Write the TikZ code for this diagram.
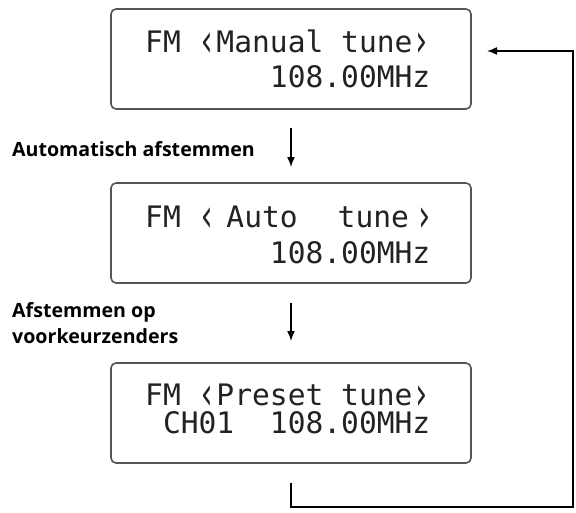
\documentclass[tikz,border=0pt]{standalone}
\usepackage{fontspec}
\usepackage{graphicx}
\setmainfont{Open Sans}
\newfontfamily\lcd{DejaVu Sans Mono}
\usetikzlibrary{arrows.meta}
\definecolor{boxline}{HTML}{555555}
\definecolor{lcdtext}{HTML}{222222}
\newcommand{\lcdlq}{\raisebox{-4pt}[20pt][0pt]{\scalebox{1}[1.55]{‹}}}
\newcommand{\lcdrq}{\raisebox{-4pt}[20pt][0pt]{\scalebox{1}[1.55]{›}}}
\tikzset{
  lcdbox/.style={draw=boxline, line width=1.6pt, rounded corners=5pt, minimum width=360pt, minimum height=100pt, inner sep=0pt},
  lcdline/.style={anchor=base west, inner sep=0pt, font=\lcd\fontsize{29.6}{30}\selectfont, text=lcdtext},
  lbl/.style={anchor=base west, inner sep=0pt, font=\bfseries\fontsize{19.6}{21}\selectfont, text=black},
  flow/.style={line width=1.5pt, -{Latex[length=10pt,width=8pt]}},
}
\begin{document}
\begin{tikzpicture}[x=1pt,y=-1pt]
\useasboundingbox (0,0) rectangle (576,512);
% boxes
\node[lcdbox] (b1) at (291,59) {};
\node[lcdbox] (b2) at (291,233) {};
\node[lcdbox] (b3) at (291,413) {};
% box texts
\node[lcdline] (t11) at (145,52) {FM \lcdlq Manual tune\lcdrq};
\node[lcdline] (t12) at (145,87) {\phantom{FM ‹Man}108.00MHz};
\node[lcdline] (t21) at (145,227) {FM \lcdlq\hspace{10pt}Auto\hspace{40pt}tune\hspace{6pt}\lcdrq};
\node[lcdline] (t22) at (145,263) {\phantom{FM ‹Man}108.00MHz};
\node[lcdline] (t31) at (145,405) {FM \lcdlq Preset tune\lcdrq};
\node[lcdline] (t32) at (145,433) {\phantom{F}CH01\phantom{MM}108.00MHz};
% labels
\node[lbl] (l1) at (12,156) {Automatisch afstemmen};
\node[lbl] (l2a) at (12,317) {Afstemmen op};
\node[lbl] (l2b) at (12,343) {voorkeurzenders};
% flow arrows
\coordinate (a1s) at (291,128);
\coordinate (a1e) at (291,167);
\coordinate (a2s) at (291,303);
\coordinate (a2e) at (291,341);
\draw[flow] (a1s) -- (a1e);
\draw[flow] (a2s) -- (a2e);
% return loop
\coordinate (r0) at (291,483);
\coordinate (r1) at (291,507);
\coordinate (r2) at (573,507);
\coordinate (r3) at (573,51);
\coordinate (r4) at (487,51);
\draw[flow] (r0) -- (r1) -- (r2) -- (r3) -- (r4);
\end{tikzpicture}
\end{document}
